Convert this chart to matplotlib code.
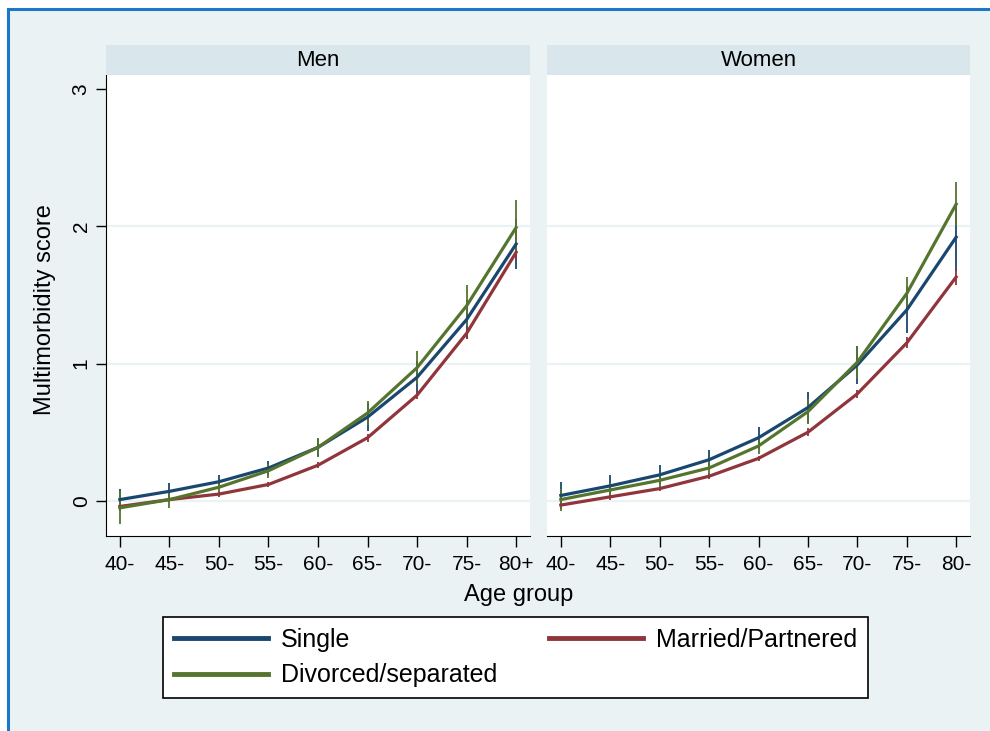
import numpy as np
import matplotlib
matplotlib.use("Agg")
import matplotlib.pyplot as plt
from matplotlib.lines import Line2D
from matplotlib.patches import Rectangle

plt.rcParams['font.family'] = ['Liberation Sans', 'DejaVu Sans']

# === Dane ===
age_men = ['40-', '45-', '50-', '55-', '60-', '65-', '70-', '75-', '80+']
age_women = ['40-', '45-', '50-', '55-', '60-', '65-', '70-', '75-', '80-']
groups = ['Single', 'Married/Partnered', 'Divorced/separated']
colors = ['#1A476F', '#90353B', '#55752F']

men_single = [0.01, 0.07, 0.14, 0.24, 0.39, 0.61, 0.90, 1.32, 1.87]
men_single_ci = [0.08, 0.06, 0.05, 0.05, 0.06, 0.10, 0.12, 0.14, 0.18]
men_married = [-0.04, 0.01, 0.05, 0.12, 0.26, 0.46, 0.77, 1.22, 1.81]
men_married_ci = [0.02, 0.02, 0.02, 0.02, 0.02, 0.03, 0.03, 0.04, 0.05]
men_divorced = [-0.05, 0.01, 0.10, 0.22, 0.39, 0.64, 0.97, 1.42, 1.99]
men_divorced_ci = [0.12, 0.06, 0.05, 0.05, 0.07, 0.09, 0.12, 0.15, 0.20]

women_single = [0.04, 0.11, 0.19, 0.30, 0.46, 0.68, 0.99, 1.39, 1.92]
women_single_ci = [0.10, 0.08, 0.07, 0.07, 0.08, 0.11, 0.14, 0.17, 0.25]
women_married = [-0.03, 0.03, 0.09, 0.18, 0.31, 0.50, 0.78, 1.15, 1.63]
women_married_ci = [0.02, 0.02, 0.02, 0.02, 0.02, 0.03, 0.03, 0.04, 0.06]
women_divorced = [0.01, 0.08, 0.15, 0.24, 0.40, 0.65, 1.01, 1.51, 2.16]
women_divorced_ci = [0.08, 0.05, 0.05, 0.05, 0.06, 0.09, 0.12, 0.12, 0.16]

panels = [
    ('Men', age_men, [(men_single, men_single_ci), (men_married, men_married_ci),
                      (men_divorced, men_divorced_ci)]),
    ('Women', age_women, [(women_single, women_single_ci), (women_married, women_married_ci),
                          (women_divorced, women_divorced_ci)]),
]

# === Układ (w pikselach) ===
W, H = 990, 731
BG = '#EAF2F3'
STRIP = '#D9E6EB'

fig = plt.figure(figsize=(W / 100, H / 100), dpi=100, facecolor='white')
# tło z niebieską ramką
fig.patches.append(Rectangle((8 / W, -0.1), 1.2, 1 - 9 / H + 0.1, transform=fig.transFigure,
                             facecolor=BG, edgecolor='#1C78C6', linewidth=2.2, zorder=-10))

def px_axes(x0, x1, y0, y1):
    return fig.add_axes([x0 / W, 1 - y1 / H, (x1 - x0) / W, (y1 - y0) / H])

lefts = [(106, 530), (547, 970)]
for i, (title, labels, series) in enumerate(panels):
    x0, x1 = lefts[i]
    ax = px_axes(x0, x1, 75, 536)
    ax.set_facecolor('white')
    x = np.arange(len(labels))
    for (vals, ci), col in zip(series, colors):
        ax.errorbar(x, vals, yerr=ci, color=col, lw=2.3, elinewidth=1.3, capsize=0)
    ax.set_xlim(-0.28, 8.28)
    ax.set_ylim(-0.255, 3.1)
    ax.set_xticks(x)
    ax.set_xticklabels(labels, fontsize=15)
    ax.tick_params(axis='x', length=8, width=1, pad=6, colors='black')
    ax.set_yticks([0, 1, 2, 3])
    ax.yaxis.grid(True, color=BG, lw=1.6)
    ax.yaxis.get_gridlines()[-1].set_visible(False)
    ax.set_axisbelow(True)
    for s in ['top', 'right']:
        ax.spines[s].set_visible(False)
    ax.spines['bottom'].set_color('black')
    if i == 0:
        ax.set_yticklabels(['0', '1', '2', '3'], fontsize=15, rotation=90, va='center')
        ax.tick_params(axis='y', length=7, width=1, pad=4)
        ax.spines['left'].set_color('black')
    else:
        ax.spines['left'].set_visible(False)
        ax.tick_params(axis='y', left=False, labelleft=False)

    sx = px_axes(x0, x1, 45, 75)
    sx.set_facecolor(STRIP)
    sx.set_xticks([])
    sx.set_yticks([])
    for s in sx.spines.values():
        s.set_visible(False)
    sx.text(0.5, 0.5, title, ha='center', va='center', fontsize=16, transform=sx.transAxes)

fig.text(45 / W, 1 - 310 / H, 'Multimorbidity score', rotation=90, ha='center', va='center', fontsize=17)
fig.text(519 / W, 1 - 595 / H, 'Age group', ha='center', va='center', fontsize=17)

handles = [Line2D([], [], color=colors[0], lw=3.5),
           Line2D([], [], color=colors[2], lw=3.5),
           Line2D([], [], color=colors[1], lw=3.5)]
leg_labels = [groups[0], groups[2], groups[1]]
leg = fig.legend(handles, leg_labels, ncol=2, loc='upper left',
                 bbox_to_anchor=(163 / W, 1 - 617 / H), bbox_transform=fig.transFigure,
                 borderaxespad=0, frameon=True, fancybox=False, fontsize=18, framealpha=1,
                 handlelength=3.75, handletextpad=0.55, columnspacing=2.05,
                 borderpad=0.43, labelspacing=0.46)
leg.get_frame().set_edgecolor('black')
leg.get_frame().set_linewidth(1.2)
leg.get_frame().set_facecolor('white')

fig.savefig('out.png', dpi=100, facecolor=fig.get_facecolor())
